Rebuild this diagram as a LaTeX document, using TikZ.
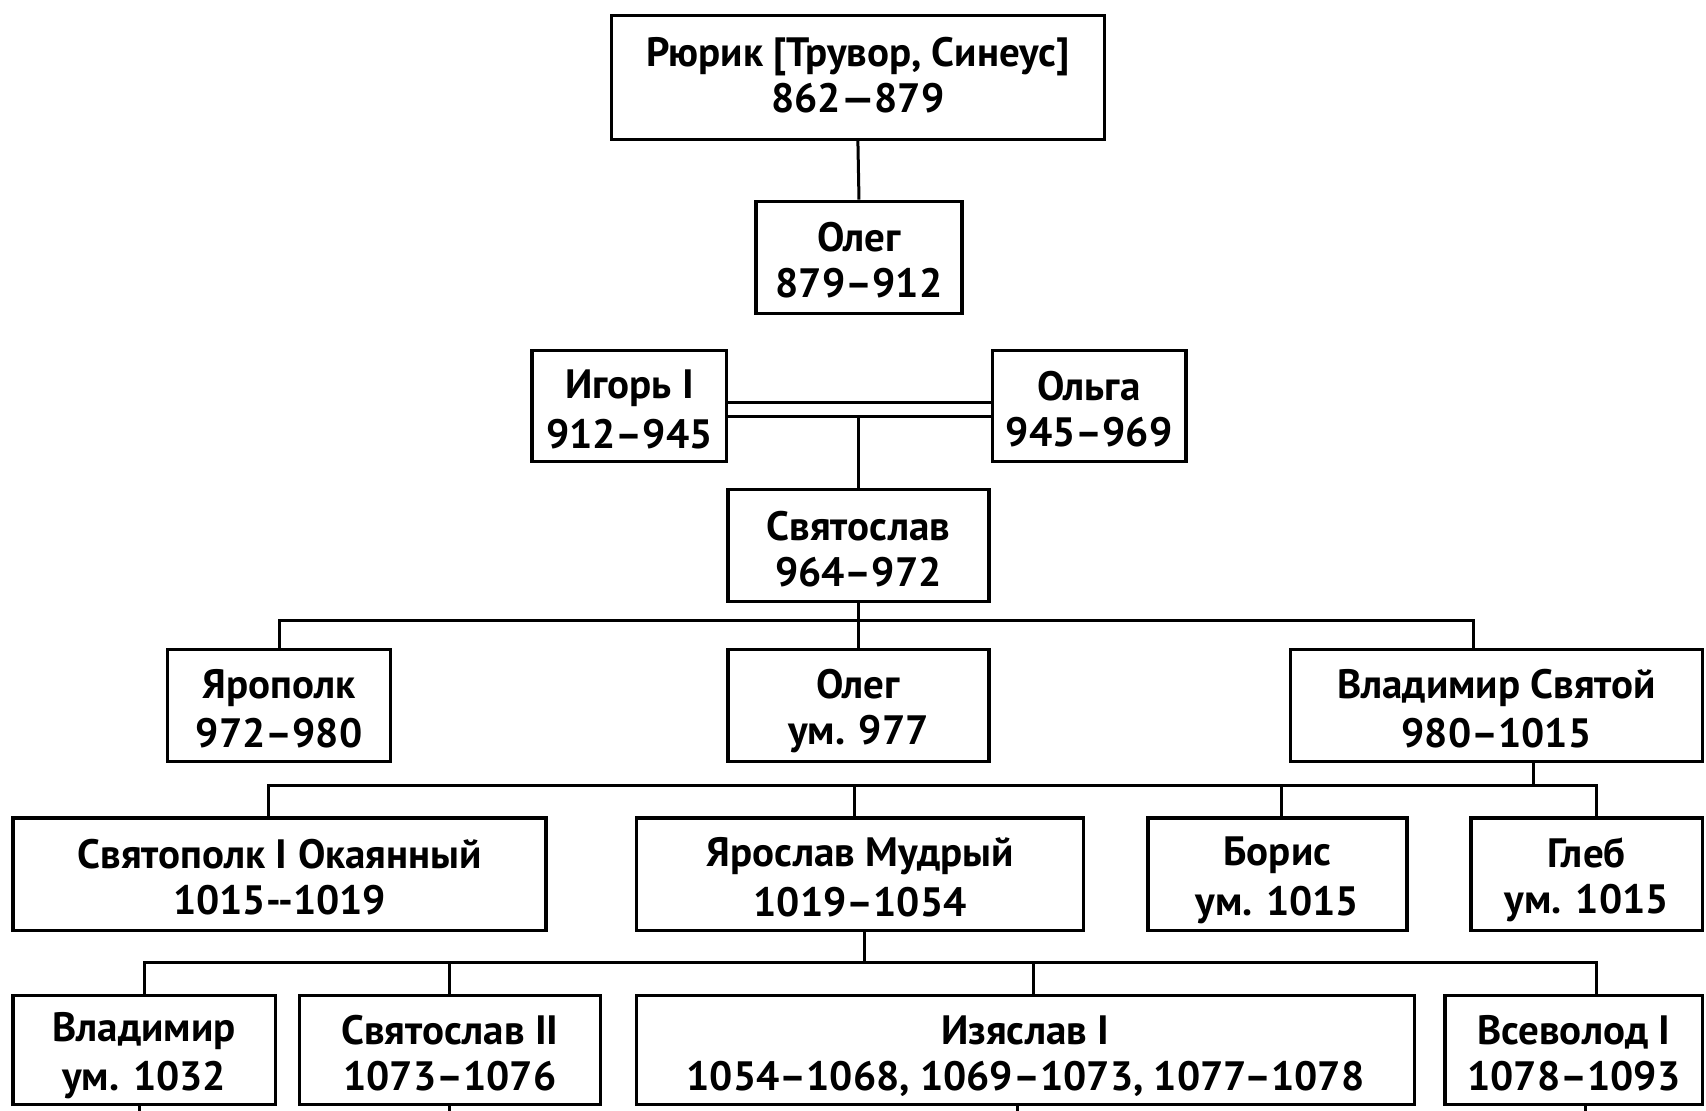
\documentclass[tikz,border=0pt]{standalone}
\usepackage{fontspec}
\setmainfont{PT Sans}
\newcommand\ls{\rule[-5.5pt]{0pt}{46pt}}
\newcommand\lsr{\rule[-11pt]{0pt}{46pt}}
\begin{document}
\begin{tikzpicture}[x=1.088pt,y=-1.088pt,
  pbox/.style={draw, line width=3.4pt, rectangle, inner sep=0pt, align=center,
    font=\fontsize{41}{46}\selectfont\bfseries},
  conn/.style={line width=3pt}]
\useasboundingbox (0,0) rectangle (1568,1021);
\fill[white] (0,0) rectangle (1568,1021);
% nodes
\node[pbox, minimum width=453*1.088pt, minimum height=114*1.088pt] (ryurik) at (788.5,71) {\lsr Рюрик [Трувор, Синеус]\\\lsr 862—879};
\node[pbox, minimum width=189*1.088pt, minimum height=103*1.088pt] (oleg1) at (789.5,236.5) {\ls Олег\\\ls 879–912};
\node[pbox, minimum width=179*1.088pt, minimum height=102*1.088pt] (igor) at (578.5,373) {\ls Игорь I\\\ls 912–945};
\node[pbox, minimum width=178*1.088pt, minimum height=102*1.088pt] (olga) at (1001,373) {\ls Ольга\\\ls 945–969};
\node[pbox, minimum width=240*1.088pt, minimum height=103*1.088pt] (svyat) at (789,501.5) {\ls Святослав\\\ls 964–972};
\node[pbox, minimum width=205*1.088pt, minimum height=103*1.088pt] (yaropolk) at (256.5,648.5) {\ls Ярополк\\\ls 972–980};
\node[pbox, minimum width=240*1.088pt, minimum height=103*1.088pt] (oleg2) at (789,648.5) {\ls Олег\\\ls ум. 977};
\node[pbox, minimum width=379*1.088pt, minimum height=103*1.088pt] (vladsv) at (1375.5,648.5) {\ls Владимир Святой\\\ls 980–1015};
\node[pbox, minimum width=490*1.088pt, minimum height=103*1.088pt] (svyatopolk) at (257,803.5) {\ls Святополк I Окаянный\\\ls 1015-{}-1019};
\node[pbox, minimum width=411*1.088pt, minimum height=103*1.088pt] (yaroslav) at (790.5,803.5) {\ls Ярослав Мудрый\\\ls 1019–1054};
\node[pbox, minimum width=238*1.088pt, minimum height=103*1.088pt] (boris) at (1174,803.5) {\ls Борис\\\ls ум. 1015};
\node[pbox, minimum width=213*1.088pt, minimum height=103*1.088pt] (gleb) at (1458.5,803.5) {\ls Глеб\\\ls ум. 1015};
\node[pbox, minimum width=241*1.088pt, minimum height=100*1.088pt] (vlad2) at (132.5,965) {\ls Владимир\\\ls ум. 1032};
\node[pbox, minimum width=277*1.088pt, minimum height=100*1.088pt] (svyat2) at (413.5,965) {\ls Святослав II\\\ls 1073–1076};
\node[pbox, minimum width=715*1.088pt, minimum height=100*1.088pt] (izyaslav) at (942.5,965) {\ls Изяслав I\\\ls 1054–1068, 1069–1073, 1077–1078};
\node[pbox, minimum width=237*1.088pt, minimum height=100*1.088pt] (vsevolod) at (1446.5,965) {\ls Всеволод I\\\ls 1078–1093};
% bus coordinates
\coordinate (bus1) at (0,570);
\coordinate (bus2) at (0,722);
\coordinate (bus3) at (0,885);
\coordinate (edge) at (0,1021);
% connectors
\draw[conn] (ryurik.south) -- (oleg1.north);
\draw[conn] ([yshift=3.3pt]igor.east) -- ([yshift=3.3pt]olga.west);
\draw[conn] ([yshift=-10.9pt]igor.east) coordinate (mline) -- ([yshift=-10.9pt]olga.west);
\draw[conn] (svyat.north |- mline) -- (svyat.north);
\draw[conn] (svyat.south) -- (oleg2.north);
\draw[conn] (yaropolk.north) -- (yaropolk.north |- bus1) -- ([xshift=-22.8pt]vladsv.north |- bus1) -- ([xshift=-22.8pt]vladsv.north);
\draw[conn] ([xshift=37pt]vladsv.south) -- ([xshift=37pt]vladsv.south |- bus2);
\draw[conn] ([xshift=-10.9pt]svyatopolk.north) -- ([xshift=-10.9pt]svyatopolk.north |- bus2) -- ([xshift=9.8pt]gleb.north |- bus2) -- ([xshift=9.8pt]gleb.north);
\draw[conn] ([xshift=-6pt]yaroslav.north) -- ([xshift=-6pt]yaroslav.north |- bus2);
\draw[conn] ([xshift=4.4pt]boris.north) -- ([xshift=4.4pt]boris.north |- bus2);
\draw[conn] ([xshift=4.9pt]yaroslav.south) -- ([xshift=4.9pt]yaroslav.south |- bus3);
\draw[conn] (vlad2.north) -- (vlad2.north |- bus3) -- ([xshift=22.8pt]vsevolod.north |- bus3) -- ([xshift=22.8pt]vsevolod.north);
\draw[conn] (svyat2.north) -- (svyat2.north |- bus3);
\draw[conn] ([xshift=8.2pt]izyaslav.north) -- ([xshift=8.2pt]izyaslav.north |- bus3);
% stubs below bottom row
\draw[conn] ([xshift=-4.9pt]vlad2.south) -- ([xshift=-4.9pt]vlad2.south |- edge);
\draw[conn] (svyat2.south) -- (svyat2.south |- edge);
\draw[conn] ([xshift=-8.2pt]izyaslav.south) -- ([xshift=-8.2pt]izyaslav.south |- edge);
\draw[conn] ([xshift=12pt]vsevolod.south) -- ([xshift=12pt]vsevolod.south |- edge);
\end{tikzpicture}
\end{document}
